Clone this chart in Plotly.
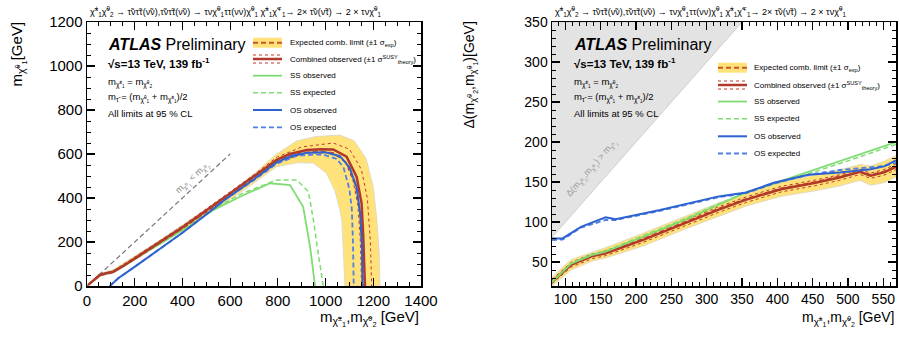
import plotly.graph_objects as go

FONT = "Liberation Sans, Arial, sans-serif"

# ---------------- Left panel: m(chi1^0) vs m(chi1^+-, chi2^0) ----------------
L_band_hi_x = [0, 50, 110, 200, 300, 400, 500, 600, 700, 795, 880, 960, 1060, 1120, 1170, 1200, 1215, 1225, 1228]
L_band_hi_y = [0, 55, 75, 135, 205, 278, 352, 425, 510, 600, 660, 680, 686, 660, 580, 450, 300, 150, 0]
L_band_lo_x = [1081, 1075, 1068, 1060, 1040, 1004, 948, 880, 795, 700, 600, 500, 400, 300, 200, 110, 60, 0]
L_band_lo_y = [0, 150, 300, 345, 430, 512, 559, 560, 542, 468, 393, 325, 252, 185, 117, 58, 45, 0]

L_exp_x = [5, 54, 110, 200, 300, 400, 500, 600, 700, 795, 880, 960, 1032, 1088, 1125, 1145, 1152, 1156]
L_exp_y = [5, 50, 63, 122, 192, 262, 338, 415, 492, 568, 600, 612, 605, 560, 460, 330, 180, 0]

L_obs_x = [5, 30, 54, 80, 110, 150, 200, 300, 400, 500, 600, 700, 795, 850, 921, 980, 1032, 1088, 1130, 1151, 1158, 1165]
L_obs_y = [5, 30, 50, 58, 65, 90, 125, 197, 267, 343, 420, 497, 573, 600, 618, 622, 621, 588, 497, 376, 224, 0]

L_thup_x = [5, 54, 110, 200, 300, 400, 500, 600, 700, 795, 900, 1032, 1100, 1150, 1175, 1188, 1193]
L_thup_y = [5, 52, 68, 130, 202, 273, 350, 428, 506, 585, 632, 650, 622, 530, 400, 200, 0]
L_thdn_x = [5, 54, 110, 200, 300, 400, 500, 600, 700, 795, 921, 1032, 1080, 1115, 1135, 1145, 1151]
L_thdn_y = [5, 48, 62, 120, 192, 261, 336, 412, 489, 562, 605, 605, 570, 480, 370, 220, 0]

L_ssobs_x = [5, 30, 54, 80, 110, 150, 200, 300, 400, 529, 650, 767, 851, 906, 935, 956]
L_ssobs_y = [5, 30, 50, 58, 65, 88, 122, 188, 253, 345, 410, 467, 459, 360, 179, 0]
L_ssexp_x = [5, 54, 110, 200, 300, 400, 529, 650, 795, 879, 928, 949, 969, 990]
L_ssexp_y = [5, 50, 65, 123, 192, 258, 350, 420, 482, 482, 429, 300, 150, 0]

L_osobs_x = [96, 131, 201, 300, 400, 500, 578, 700, 795, 860, 921, 1000, 1060, 1100, 1130, 1145, 1152, 1155]
L_osobs_y = [0, 35, 88, 165, 242, 325, 392, 485, 562, 592, 606, 608, 590, 540, 450, 330, 200, 0]
L_osexp_x = [96, 131, 201, 300, 400, 500, 578, 700, 795, 880, 960, 1000, 1046, 1075, 1100, 1110, 1115, 1118]
L_osexp_y = [0, 35, 88, 165, 242, 325, 392, 482, 556, 592, 598, 594, 578, 540, 440, 350, 200, 0]

L_diag_x = [0, 600]
L_diag_y = [0, 600]

# ---------------- Right panel: Delta m vs m ----------------
R_m = [81, 108, 137, 157, 210, 269, 317, 356, 405, 454, 488, 517, 532, 551, 568]
R_band_hi = [31, 53, 62, 68, 86, 107, 124, 136, 150, 159, 165, 172, 170, 176, 183]
R_band_lo = [20, 40, 51, 55, 70, 91, 107, 120, 132, 139, 145, 152, 146, 149, 156]
R_obs = [25, 46.5, 57, 61, 77.7, 98.8, 115.5, 128, 141, 149, 155.6, 162.8, 157.8, 162, 169]
R_exp = [26, 47.5, 58, 62, 79, 100, 117, 129, 142, 150, 156.5, 163, 159, 163, 170]
R_thup = [28, 49.5, 60, 64, 81, 102, 119, 131.5, 144.5, 152.5, 159, 166, 161, 165.5, 172.5]
R_thdn = [23, 43.5, 54, 58, 74.5, 95.5, 112, 124.5, 137.5, 145.5, 152, 159.5, 154.5, 158.5, 165.5]

R_ss_m = [81, 108, 137, 157, 210, 269, 317, 356, 405, 454, 502, 551, 568]
R_ssobs = [25, 48, 58.5, 62.8, 81.6, 102.6, 121.5, 137, 151, 165.6, 180, 195, 200]
R_ssexp = [25, 48.5, 59.5, 64, 83, 104, 122.5, 137.5, 150, 163, 177, 192, 197]

R_os_m = [81, 96, 122, 157, 171, 234, 317, 356, 395, 444, 488, 532, 551, 568]
R_osobs = [79.5, 79.5, 94, 106, 103.5, 115, 132, 137, 149, 159, 162, 166, 169.5, 177]
R_osexp = [77.5, 78, 93, 102.5, 102.5, 114, 131, 136, 148, 159, 165, 168, 170, 174]

R_tri_m = [81, 350, 81]
R_tri_d = [81, 350, 350]

# colours
C_BAND = "#FFE37A"
C_EXP = "#C8552B"
C_OBS = "#B0392B"
C_TH = "#C0392B"
C_SS = "#7FDC72"
C_OS = "#2E62D0"
C_OSD = "#4F80E2"
DASH = "5px,3px"

fig = go.Figure()

def line(x, y, color, width, dash="solid", xa="x", ya="y"):
    fig.add_trace(go.Scatter(x=x, y=y, mode="lines", xaxis=xa, yaxis=ya,
                             line=dict(color=color, width=width, dash=dash),
                             hoverinfo="skip", showlegend=False))

# left panel
fig.add_trace(go.Scatter(x=L_band_hi_x + L_band_lo_x, y=L_band_hi_y + L_band_lo_y,
                         fill="toself", fillcolor=C_BAND, mode="lines",
                         line=dict(color="#D9D6C8", width=0.8), hoverinfo="skip",
                         showlegend=False, xaxis="x", yaxis="y"))
line(L_diag_x, L_diag_y, "#777777", 1.2, DASH)
line(L_ssexp_x, L_ssexp_y, C_SS, 1.5, DASH)
line(L_ssobs_x, L_ssobs_y, C_SS, 1.8)
line(L_exp_x, L_exp_y, C_EXP, 1.8, DASH)
line(L_thup_x, L_thup_y, C_TH, 1, "dot")
line(L_thdn_x, L_thdn_y, C_TH, 1, "dot")
line(L_obs_x, L_obs_y, C_OBS, 2.5)
line(L_osexp_x, L_osexp_y, C_OSD, 1.8, DASH)
line(L_osobs_x, L_osobs_y, C_OS, 2)

# right panel
fig.add_trace(go.Scatter(x=R_tri_m, y=R_tri_d, fill="toself", fillcolor="#E3E3E3",
                         mode="lines", line=dict(color="#CFCFCF", width=1),
                         hoverinfo="skip", showlegend=False, xaxis="x2", yaxis="y2"))
fig.add_trace(go.Scatter(x=R_m + R_m[::-1], y=R_band_hi + R_band_lo[::-1],
                         fill="toself", fillcolor=C_BAND, mode="lines",
                         line=dict(color="#D9D6C8", width=0.8), hoverinfo="skip",
                         showlegend=False, xaxis="x2", yaxis="y2"))
line(R_m, R_exp, C_EXP, 1.8, DASH, "x2", "y2")
line(R_m, R_thup, C_TH, 1, "dot", "x2", "y2")
line(R_m, R_thdn, C_TH, 1, "dot", "x2", "y2")
line(R_m, R_obs, C_OBS, 2.5, "solid", "x2", "y2")
line(R_ss_m, R_ssexp, C_SS, 1.5, DASH, "x2", "y2")
line(R_ss_m, R_ssobs, C_SS, 1.8, "solid", "x2", "y2")
line(R_os_m, R_osexp, C_OSD, 1.8, DASH, "x2", "y2")
line(R_os_m, R_osobs, C_OS, 2, "solid", "x2", "y2")

W, H = 900, 338
def PX(x): return x / W
def PY(y): return 1 - y / H

def axis(domain, rng, dtick, minor, size, anchor, tick0=0):
    return dict(domain=domain, range=rng, dtick=dtick, tick0=tick0, ticks="inside",
                ticklen=8, tickwidth=1.2, tickcolor="black", automargin=False,
                minor=dict(dtick=minor, ticks="inside", ticklen=4, tickwidth=1, tickcolor="black"),
                showline=True, linecolor="black", linewidth=1.5, mirror="allticks",
                showgrid=False, zeroline=False, anchor=anchor,
                tickfont=dict(size=size, family=FONT, color="black"))

xL = [PX(87), PX(421)]
xR = [PX(552), PX(896)]
yD = [PY(286), PY(22)]

fig.update_layout(
    template="none",
    width=W, height=H, margin=dict(l=0, r=0, t=0, b=0, pad=0, autoexpand=False),
    paper_bgcolor="white", plot_bgcolor="white", showlegend=False,
    font=dict(family=FONT, color="black"),
    xaxis=axis(xL, [0, 1400], 200, 50, 15, "y"),
    yaxis=axis(yD, [0, 1200], 200, 50, 15, "x"),
    xaxis2=axis(xR, [81, 568], 50, 10, 14, "y2"),
    yaxis2=axis(yD, [20, 350], 50, 10, 14, "x2"),
)

ann = []
def A(text, x, y, size, xa="left", ya="middle", color="black", angle=0):
    ann.append(dict(text=text, x=PX(x), y=PY(y), xref="paper", yref="paper",
                    showarrow=False, xanchor=xa, yanchor=ya, textangle=angle,
                    font=dict(size=size, color=color, family=FONT)))

chi10 = "χ̃<sup>0</sup><sub>1</sub>"
chi20 = "χ̃<sup>0</sup><sub>2</sub>"
chi1pm = "χ̃<sup>±</sup><sub>1</sub>"

title = ("χ̃<sup>±</sup><sub>1</sub>χ̃<sup>0</sup><sub>2</sub> → τ̃ντ̃τ(ν̃ν),τ̃ντ̃τ(ν̃ν) → τνχ̃<sup>0</sup><sub>1</sub>ττ(νν)χ̃<sup>0</sup><sub>1</sub>"
         " χ̃<sup>±</sup><sub>1</sub>χ̃<sup>∓</sup><sub>1</sub>→ 2× τ̃ν(ν̃τ) → 2 × τνχ̃<sup>0</sup><sub>1</sub>")
A(title, 88, 11, 9)
A(title, 553, 11, 9)

# axis titles
A("m<sub>" + chi1pm + "</sub>,m<sub>" + chi20 + "</sub> [GeV]", 421, 318, 15, xa="right")
A("m<sub>" + chi1pm + "</sub>,m<sub>" + chi20 + "</sub> [GeV]", 896, 318, 14, xa="right")
A("m<sub>" + chi10 + "</sub>[GeV]", 18, 20, 15, xa="center", ya="top", angle=-90)
A("Δ(m<sub>" + chi20 + "</sub>,m<sub>" + chi10 + "</sub>)[GeV]", 470, 20, 14, xa="center", ya="top", angle=-90)

# info blocks
for x0 in (106, 572):
    A("<b><i>ATLAS</i></b> Preliminary", x0, 44, 16)
    A("<b>√s=13 TeV, 139 fb<sup>-1</sup></b>", x0, 63, 11.5)
    A("m<sub>" + chi1pm + "</sub> = m<sub>" + chi20 + "</sub>", x0, 82, 9.5)
    A("m<sub>τ̃</sub> = (m<sub>" + chi10 + "</sub> + m<sub>" + chi1pm + "</sub>)/2", x0, 98, 9.5)
    A("All limits at 95 % CL", x0, 114, 9.5)

# diagonal labels
ann.append(dict(text="m<sub>" + chi10 + "</sub> < m<sub>" + chi20 + "</sub>", x=445, y=490,
                xref="x", yref="y", showarrow=False, textangle=-42.7,
                font=dict(size=9, color="#888888", family=FONT)))
ann.append(dict(text="Δ(m<sub>" + chi20 + "</sub>,m<sub>" + chi10 + "</sub>) > m<sub>" + chi1pm + "</sub>",
                x=138, y=167, xref="x2", yref="y2", showarrow=False, textangle=-49.4,
                font=dict(size=9, color="#999999", family=FONT)))

# legends
shapes = []
labels = ["Expected comb. limit (±1 σ<sub>exp</sub>)",
          "Combined observed (±1 σ<sup>SUSY</sup><sub>theory</sub>)",
          "SS observed", "SS expected", "OS observed", "OS expected"]

def legend(x0, x1, xt, rows):
    def L(y, color, width, dash="solid"):
        shapes.append(dict(type="line", xref="paper", yref="paper", x0=PX(x0), x1=PX(x1),
                           y0=PY(y), y1=PY(y), line=dict(color=color, width=width, dash=dash)))
    r = rows
    shapes.append(dict(type="rect", xref="paper", yref="paper", x0=PX(x0), x1=PX(x1),
                       y0=PY(r[0] - 5), y1=PY(r[0] + 5), fillcolor=C_BAND, line=dict(width=0)))
    L(r[0], C_EXP, 2, DASH)
    L(r[1], C_OBS, 2.5)
    L(r[1] - 4, C_TH, 1, "dot")
    L(r[1] + 4, C_TH, 1, "dot")
    L(r[2], C_SS, 1.8)
    L(r[3], C_SS, 1.5, DASH)
    L(r[4], C_OS, 2)
    L(r[5], C_OSD, 1.8, DASH)
    for y, t in zip(r, labels):
        A(t, xt, y, 8)

legend(253, 282, 288, [42.7, 59, 75.7, 92.7, 110, 127.3])
legend(718, 747, 752, [67.7, 85, 101.5, 118.7, 136.3, 153.5])

fig.update_layout(annotations=ann, shapes=shapes)
fig.write_html("out.html", config={"displayModeBar": False, "staticPlot": True},
               post_script="document.body.style.margin='0px';document.body.style.overflow='hidden';")
